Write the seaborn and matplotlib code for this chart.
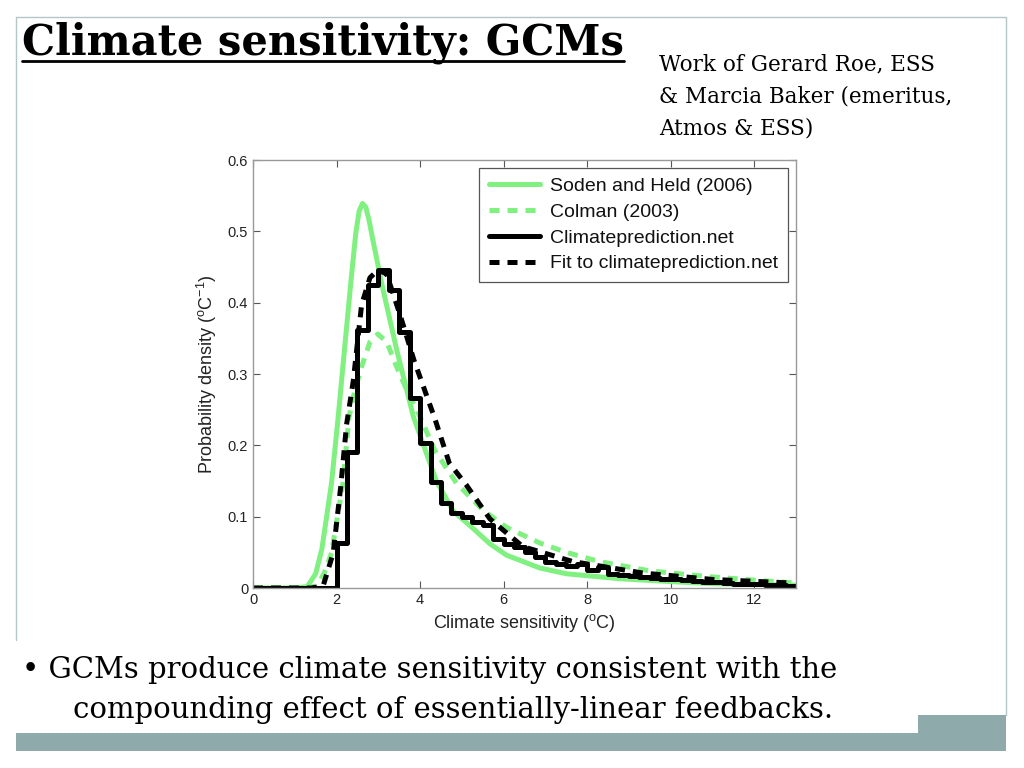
import numpy as np
import pandas as pd
import matplotlib
matplotlib.use("Agg")
import matplotlib.pyplot as plt
from matplotlib.lines import Line2D
from matplotlib.patches import Rectangle
import seaborn as sns

GREEN = "#80f080"
TEAL = "#8eaaaa"

# Soden and Held (2006) curve
soden_x = [0.0, 1.0, 1.3, 1.5, 1.65, 1.88, 2.04, 2.19, 2.34, 2.46, 2.54, 2.62, 2.7, 2.78, 2.88,
           3.08, 3.44, 3.84, 4.39, 4.79, 5.26, 5.67, 6.07, 6.87, 7.5, 8.78, 10.0, 11.0, 13.0]
soden_y = [0.0, 0.0, 0.002, 0.02, 0.055, 0.147, 0.24, 0.334, 0.427, 0.497, 0.528, 0.539, 0.534, 0.515, 0.485,
           0.427, 0.334, 0.24, 0.15, 0.108, 0.084, 0.062, 0.046, 0.028, 0.02, 0.013, 0.009, 0.006, 0.004]

# Colman (2003)
colman_x = [0.0, 1.3, 1.52, 1.7, 1.88, 2.15, 2.3, 2.45, 2.6, 2.8, 2.99, 3.2, 3.44, 3.7,
            4.0, 4.35, 4.87, 5.51, 6.07, 6.87, 7.5, 8.3, 9.5, 10.9, 12.0, 13.0]
colman_y = [0.0, 0.0, 0.003, 0.02, 0.049, 0.145, 0.24, 0.28, 0.31, 0.345, 0.356, 0.345, 0.31, 0.275,
            0.24, 0.193, 0.147, 0.109, 0.085, 0.063, 0.05, 0.037, 0.024, 0.016, 0.011, 0.007]

# Fit to climateprediction.net
fit_x = [0.0, 1.4, 1.68, 1.92, 2.1, 2.24, 2.4, 2.6, 2.8, 3.0, 3.2, 3.52, 3.85, 4.35,
         4.7, 5.1, 5.67, 6.46, 7.66, 9.33, 11.0, 12.9]
fit_y = [0.0, 0.0, 0.003, 0.049, 0.142, 0.229, 0.29, 0.397, 0.435, 0.446, 0.44, 0.383, 0.32, 0.238,
         0.175, 0.145, 0.097, 0.058, 0.037, 0.021, 0.012, 0.007]

# Climateprediction.net histogram, 0.25 degC bins from 0 to 13
bin_width = 0.25
cpn_density = [0.0] * 8 + [
    0.063, 0.191, 0.362, 0.425, 0.446, 0.418, 0.359, 0.266,
    0.203, 0.149, 0.119, 0.105, 0.100, 0.093, 0.088, 0.068,
    0.062, 0.058, 0.050, 0.044, 0.036, 0.033, 0.031, 0.034,
    0.025, 0.029, 0.020, 0.018, 0.017, 0.016, 0.014, 0.013,
    0.013, 0.011, 0.010, 0.008, 0.008, 0.007, 0.006, 0.005,
    0.005, 0.004, 0.004, 0.003]

hist_df = pd.DataFrame({
    "centre": [bin_width * (i + 0.5) for i in range(len(cpn_density))],
    "density": cpn_density,
})

sns.set_style("ticks")
plt.rcParams["font.family"] = ["Liberation Sans", "DejaVu Sans"]
plt.rcParams["text.color"] = "black"
plt.rcParams["mathtext.fontset"] = "custom"
plt.rcParams["mathtext.rm"] = "Liberation Sans"
plt.rcParams["mathtext.it"] = "Liberation Sans:italic"

fig = plt.figure(figsize=(10.24, 7.68), dpi=100)
fig.patch.set_facecolor("white")

# slide decoration, positions in pixels
W, H = 1024, 768
def fx(px):
    return px / W
def fy(py):
    return 1 - py / H

fig.add_artist(Line2D([fx(16), fx(1006)], [fy(17), fy(17)], color="#b5c6c6", lw=1))
fig.add_artist(Line2D([fx(16), fx(16)], [fy(17), fy(640)], color="#b5c6c6", lw=1))
fig.add_artist(Line2D([fx(1006), fx(1006)], [fy(17), fy(715)], color="#b5c6c6", lw=1))
fig.add_artist(Rectangle((fx(16), fy(751)), fx(990), 18 / H, color=TEAL, lw=0))
fig.add_artist(Rectangle((fx(918), fy(733)), fx(88), 18 / H, color=TEAL, lw=0))

title = fig.text(fx(22), fy(55), "Climate sensitivity: GCMs", family="DejaVu Serif",
                 weight="bold", fontsize=30, color="black")
fig.canvas.draw()
bb = title.get_window_extent()
fig.add_artist(Line2D([bb.x0 / W, bb.x1 / W], [fy(61), fy(61)], color="black", lw=2))

fig.text(fx(659), fy(53), "Work of Gerard Roe, ESS\n& Marcia Baker (emeritus,\nAtmos & ESS)",
         family="DejaVu Serif", fontsize=15.5, va="top", linespacing=1.6, color="black")
fig.text(fx(22), fy(678), "\u2022 GCMs produce climate sensitivity consistent with the",
         family="DejaVu Serif", fontsize=21, color="black")
fig.text(fx(73), fy(718), "compounding effect of essentially-linear feedbacks.",
         family="DejaVu Serif", fontsize=21, color="black")

# chart
ax = fig.add_axes([fx(253), fy(588), fx(796) - fx(253), (588 - 160) / H])

sns.lineplot(x=soden_x, y=soden_y, ax=ax, color=GREEN, lw=3.6, sort=False)
sns.lineplot(x=colman_x, y=colman_y, ax=ax, color=GREEN, lw=3.6, sort=False,
             linestyle=(0, (2, 1.6)))
sns.histplot(data=hist_df, x="centre", weights="density", binwidth=bin_width,
             binrange=(0, 13), ax=ax, element="step", fill=False, color="black",
             lw=3.6, stat="count")
sns.lineplot(x=fit_x, y=fit_y, ax=ax, color="black", lw=3.6, sort=False,
             linestyle=(0, (2, 1.6)))

ax.set_xlim(0, 13)
ax.set_ylim(0, 0.6)
ax.set_xticks([0, 2, 4, 6, 8, 10, 12])
ax.set_yticks([0, 0.1, 0.2, 0.3, 0.4, 0.5, 0.6])
ax.set_yticklabels(["0", "0.1", "0.2", "0.3", "0.4", "0.5", "0.6"])
ax.tick_params(direction="in", top=True, right=True, length=5, width=0.8,
               labelsize=10.5, colors="#555555", labelcolor="#222222")
for spine in ax.spines.values():
    spine.set_visible(True)
    spine.set_edgecolor("#999999")
    spine.set_linewidth(1)
ax.set_xlabel("Climate sensitivity ($^{\\rm o}$C)", fontsize=13, color="#222222", labelpad=4)
ax.set_ylabel("Probability density ($^{\\rm o}$C$^{-1}$)", fontsize=13, color="#222222", labelpad=6)

handles = [Line2D([], [], color=GREEN, lw=3.6),
           Line2D([], [], color=GREEN, lw=3.6, linestyle=(0, (2, 1.6))),
           Line2D([], [], color="black", lw=3.6),
           Line2D([], [], color="black", lw=3.6, linestyle=(0, (2, 1.6)))]
labels = ["Soden and Held (2006)", "Colman (2003)", "Climateprediction.net",
          "Fit to climateprediction.net"]
leg = ax.legend(handles, labels, loc="upper right", fontsize=14, frameon=True,
                fancybox=False, framealpha=1, edgecolor="#555555", handlelength=2.6,
                borderaxespad=0.4, labelspacing=0.42, handletextpad=0.55, borderpad=0.5)
leg.get_frame().set_linewidth(0.9)
for t in leg.get_texts():
    t.set_color("#111111")

fig.savefig("out.png", dpi=100, facecolor="white")
